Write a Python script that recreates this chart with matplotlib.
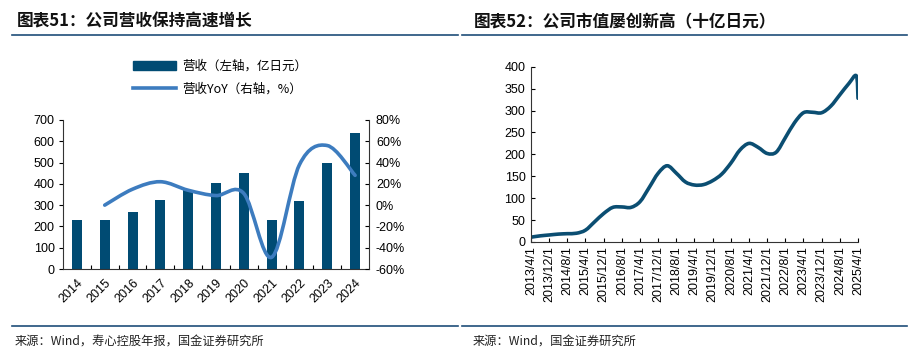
import numpy as np
import matplotlib
matplotlib.use("Agg")
import matplotlib.pyplot as plt
import matplotlib.dates as mdates
from matplotlib.path import Path
from matplotlib.patches import PathPatch, Rectangle
from matplotlib.lines import Line2D
import datetime as dt

plt.rcParams['font.family'] = ['Liberation Sans', 'Noto Sans CJK SC', 'DejaVu Sans']
CJK = ['Noto Sans CJK SC', 'DejaVu Sans']

# left chart data
years = ['2014', '2015', '2016', '2017', '2018', '2019', '2020', '2021', '2022', '2023', '2024']
revenue = [231, 231, 266, 325, 372, 406, 450, 231, 320, 500, 640]
yoy_years = years[1:]
yoy = [0, 15, 22, 14, 9, 11, -49, 38, 56, 28]

# right chart data (market cap, bn JPY)
mc_dates = ['2013-04-01', '2013-08-01', '2013-12-01', '2014-04-01', '2014-08-01', '2014-12-01',
            '2015-04-01', '2015-08-01', '2015-12-01', '2016-04-01', '2016-08-01', '2016-12-01',
            '2017-04-01', '2017-08-01', '2017-12-01', '2018-04-01', '2018-08-01', '2018-12-01',
            '2019-04-01', '2019-08-01', '2019-12-01', '2020-04-01', '2020-08-01', '2020-12-01',
            '2021-04-01', '2021-08-01', '2021-12-01', '2022-04-01', '2022-08-01', '2022-12-01',
            '2023-04-01', '2023-08-01', '2023-12-01', '2024-04-01', '2024-08-01', '2024-12-01',
            '2025-03-10', '2025-04-01']
mc_values = [11, 14, 16, 18, 19, 20,
             27, 46, 65, 79, 80, 79,
             92, 124, 157, 174, 157, 137,
             130, 131, 140, 155, 180, 210,
             225, 216, 202, 205, 238, 272,
             295, 296, 295, 310, 336, 362,
             379, 328]
mc_ticks = ['2013/4/1', '2013/12/1', '2014/8/1', '2015/4/1', '2015/12/1', '2016/8/1',
            '2017/4/1', '2017/12/1', '2018/8/1', '2019/4/1', '2019/12/1', '2020/8/1',
            '2021/4/1', '2021/12/1', '2022/8/1', '2023/4/1', '2023/12/1', '2024/8/1', '2025/4/1']


def smooth_path(x, y):
    # excel-like smoothed line as cubic bezier segments
    x = np.asarray(x, float)
    y = np.asarray(y, float)
    pts = np.column_stack([x, y])
    verts = [pts[0]]
    codes = [Path.MOVETO]
    n = len(pts)
    for i in range(n - 1):
        p_prev = pts[i - 1] if i > 0 else pts[i]
        p_next2 = pts[i + 2] if i + 2 < n else pts[i + 1]
        c1 = pts[i] + (pts[i + 1] - p_prev) / 6
        c2 = pts[i + 1] - (p_next2 - pts[i]) / 6
        verts += [c1, c2, pts[i + 1]]
        codes += [Path.CURVE4] * 3
    return Path(verts, codes)


fig = plt.figure(figsize=(9.16, 3.57), dpi=100)

navy = '#004B73'
rule = '#1F4E79'

# titles, rules, footers
fig.text(17 / 916, 1 - 22 / 357, '图表51：公司营收保持高速增长', family=CJK, fontsize=12,
         fontweight='bold', color='#111111', va='center', ha='left')
fig.text(474 / 916, 1 - 22 / 357, '图表52：公司市值屡创新高（十亿日元）', family=CJK, fontsize=12,
         fontweight='bold', color='#111111', va='center', ha='left')
for x0, x1 in [(12, 458), (462, 907)]:
    fig.add_artist(Line2D([x0 / 916, x1 / 916], [1 - 34.5 / 357] * 2, color=rule, lw=1.2))
    fig.add_artist(Line2D([x0 / 916, x1 / 916], [1 - 326 / 357] * 2, color=rule, lw=1.2))
fig.text(15 / 916, 1 - 342 / 357, '来源：Wind，寿心控股年报，国金证券研究所', family=CJK, fontsize=8.8,
         color='#222222', va='center', ha='left')
fig.text(473 / 916, 1 - 342 / 357, '来源：Wind，国金证券研究所', family=CJK, fontsize=8.8,
         color='#222222', va='center', ha='left')

# left chart
ax1 = fig.add_axes([63 / 916, 1 - 269 / 357, 306 / 916, 149 / 357])
xpos = np.arange(len(years))
ax1.bar(xpos, revenue, width=0.36, color=navy, zorder=2)
ax1.set_xlim(-0.5, len(years) - 0.5)
ax1.set_ylim(0, 700)
ax1.set_yticks(range(0, 701, 100))
ax1.set_xticks(xpos)
ax1.set_xticklabels(years, rotation=45, ha='right', rotation_mode='anchor')
ax1.set_xticks(xpos[:-1] + 0.5, minor=True)
ax1.tick_params(axis='x', which='major', length=0, pad=6, labelsize=9)
ax1.tick_params(axis='x', which='minor', length=3, direction='in', width=0.8)
ax1.tick_params(axis='y', length=3, direction='out', width=0.8, labelsize=9, pad=3)
for s in ['top', 'right']:
    ax1.spines[s].set_visible(False)
ax1.spines['left'].set_color('#333333')
ax1.spines['bottom'].set_color('#333333')

ax2 = ax1.twinx()
ax2.set_ylim(-60, 80)
ax2.set_yticks(range(-60, 81, 20))
ax2.set_yticklabels([f'{v}%' for v in range(-60, 81, 20)])
ax2.tick_params(axis='y', length=3, direction='in', width=0.8, labelsize=9, pad=5)
for s in ['top', 'left', 'bottom']:
    ax2.spines[s].set_visible(False)
ax2.spines['right'].set_color('#333333')
yoy_x = [years.index(y) for y in yoy_years]
ax2.add_patch(PathPatch(smooth_path(yoy_x, yoy), fill=False, edgecolor='#3D7CBF',
                        lw=2.6, capstyle='round', joinstyle='round', zorder=3))

handles = [Rectangle((0, 0), 1, 1, color=navy),
           Line2D([], [], color='#3D7CBF', lw=2.6)]
fig.legend(handles, ['营收（左轴，亿日元）', '营收YoY（右轴，%）'],
           loc='upper left', bbox_to_anchor=(128 / 916, 1 - 55 / 357), frameon=False,
           prop={'family': CJK, 'size': 9}, handlelength=3.4, handleheight=0.75,
           labelspacing=0.75, handletextpad=0.5, borderaxespad=0)

# right chart
ax3 = fig.add_axes([531 / 916, 1 - 242 / 357, 327 / 916, 175.3 / 357])
mx = mdates.date2num([dt.datetime.strptime(d, '%Y-%m-%d') for d in mc_dates])
ax3.add_patch(PathPatch(smooth_path(mx, mc_values), fill=False, edgecolor='#0B4E72',
                        lw=2.6, capstyle='round', joinstyle='round'))
tick_x = mdates.date2num([dt.datetime.strptime(t, '%Y/%m/%d') for t in mc_ticks])
ax3.set_xlim(tick_x[0], tick_x[-1])
ax3.set_ylim(0, 400)
ax3.set_yticks(range(0, 401, 50))
ax3.set_xticks(tick_x)
ax3.set_xticklabels(mc_ticks, rotation=90, ha='center', va='top')
ax3.tick_params(axis='x', length=3, direction='in', width=0.8, labelsize=9, pad=3)
ax3.tick_params(axis='y', length=3, direction='in', width=0.8, labelsize=9, pad=4)
for s in ['top', 'right']:
    ax3.spines[s].set_visible(False)
ax3.spines['left'].set_color('#333333')
ax3.spines['bottom'].set_color('#333333')

fig.savefig('out.png', dpi=100)
